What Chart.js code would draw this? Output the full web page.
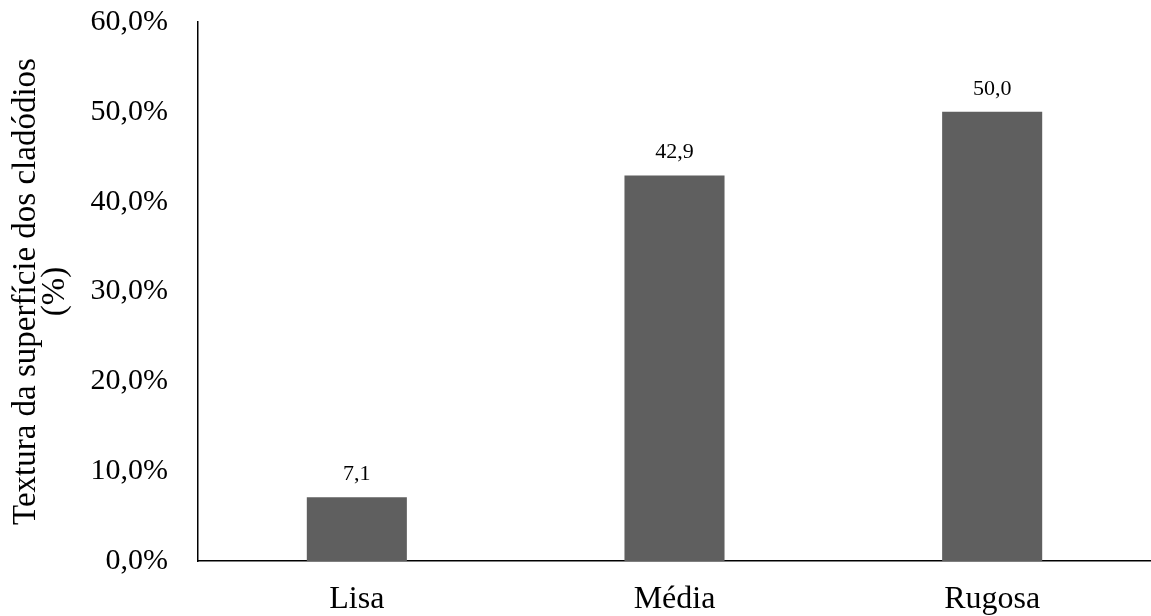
<!DOCTYPE html>
<html>
<head>
<meta charset="utf-8">
<script src="https://cdn.jsdelivr.net/npm/chart.js@4.4.1/dist/chart.umd.min.js"></script>
<style>
  html, body { margin: 0; padding: 0; background: #ffffff; }
  #wrap { width: 1151px; height: 616px; position: relative; }
</style>
</head>
<body>
<div id="wrap"><canvas id="chart" width="1151" height="616"></canvas></div>
<script>
// Categories of cladode surface texture and their share (%)
const categories = ['Lisa', 'Média', 'Rugosa'];
const values = [7.1, 42.9, 50.0];
const yTicks = [0, 10, 20, 30, 40, 50, 60];

const serif = "'Liberation Serif', 'Times New Roman', serif";
const fmtComma = (v, d) => v.toFixed(d).replace('.', ',');

// Writes each bar's value just above it
const valueLabels = {
  id: 'valueLabels',
  afterDatasetsDraw(chart) {
    const ctx = chart.ctx;
    const meta = chart.getDatasetMeta(0);
    ctx.save();
    ctx.font = '22px ' + serif;
    ctx.fillStyle = '#000000';
    ctx.textAlign = 'center';
    ctx.textBaseline = 'middle';
    meta.data.forEach((bar, i) => {
      ctx.fillText(fmtComma(values[i], 1), bar.x, bar.y - 23);
    });
    ctx.restore();
  }
};

new Chart(document.getElementById('chart'), {
  type: 'bar',
  data: {
    labels: categories,
    datasets: [{
      data: values,
      backgroundColor: '#5f5f5f',
      borderWidth: 0,
      barPercentage: 0.63,
      categoryPercentage: 0.5
    }]
  },
  options: {
    responsive: false,
    animation: false,
    layout: { padding: { top: 22, left: 0, right: 0, bottom: 0 } },
    plugins: {
      legend: { display: false },
      tooltip: { enabled: false }
    },
    scales: {
      x: {
        grid: { display: false, drawTicks: false },
        border: { display: true, color: '#000000', width: 1.5 },
        ticks: {
          color: '#000000',
          font: { family: serif, size: 32 },
          padding: 19
        },
        afterFit(scale) { scale.height = 55; }
      },
      y: {
        min: 0,
        max: 60,
        afterBuildTicks(scale) { scale.ticks = yTicks.map(v => ({ value: v })); },
        grid: { display: false, drawTicks: false },
        border: { display: true, color: '#000000', width: 1.5 },
        ticks: {
          color: '#000000',
          font: { family: serif, size: 30 },
          padding: 30,
          callback: (v) => fmtComma(v, 1) + '%'
        },
        title: {
          display: true,
          text: ['Textura da superfície dos cladódios', '(%)'],
          color: '#000000',
          font: { family: serif, size: 33, lineHeight: 0.9 },
          padding: { top: 11, bottom: 0 }
        },
        afterFit(scale) {
          scale.width = 198;
          scale.paddingTop = 0;
          scale.paddingBottom = 0;
        }
      }
    }
  },
  plugins: [valueLabels]
});
</script>
</body>
</html>
